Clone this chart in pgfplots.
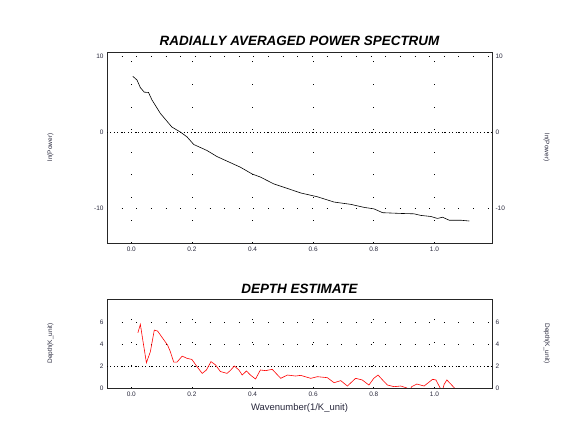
\documentclass[border=0pt]{standalone}
\usepackage{fontspec}
\setmainfont{Liberation Sans}
\usepackage{pgfplots}
\pgfplotsset{compat=1.18}

\definecolor{lab}{RGB}{40,40,60}

\pgfplotsset{
  base/.style={
    scale only axis, width=385bp, anchor=south west,
    xmin=-0.08, xmax=1.19,
    xtick={0,0.2,...,1.0},
    major tick length=0pt,
    axis line style={line width=0.8pt, black!85},
    tick label style={font=\fontsize{6.5}{7}\selectfont, text=lab},
    label style={font=\fontsize{6.5}{7}\selectfont, text=lab},
    /pgf/number format/assume math mode=true,
    xticklabel style={/pgf/number format/.cd, fixed, fixed zerofill, precision=1},
    grid=major,
    x grid style={black, line width=0.7pt, dash pattern=on 0.7pt off 22pt},
    y grid style={black, line width=0.7pt, dash pattern=on 0.7pt off 14pt},
    title style={font=\fontsize{13.5}{15}\selectfont\bfseries\itshape, yshift=-3pt},
    clip=true,
  },
  rightcopy/.style={
    scale only axis, width=385bp, anchor=south west,
    xmin=-0.08, xmax=1.19,
    axis x line=none, axis y line*=right,
    yticklabel pos=right,
    major tick length=0pt,
    axis line style={line width=0.8pt, black!85},
    tick label style={font=\fontsize{6.5}{7}\selectfont, text=lab},
    label style={font=\fontsize{6.5}{7}\selectfont, text=lab},
    /pgf/number format/assume math mode=true,
    ylabel style={at={(axis description cs:1.125,0.5)}, rotate=180},
  },
}

\begin{document}
\begin{tikzpicture}
\useasboundingbox (0bp,0bp) rectangle (574bp,429bp);

% ---- top: power spectrum ----
\begin{axis}[base, at={(107bp,186bp)}, height=191bp,
  ymin=-14.6, ymax=10.6, ytick={-10,0,10},
  title={RADIALLY AVERAGED POWER SPECTRUM},
  ylabel={ln(Power)},
  ylabel style={at={(axis description cs:-0.13,0.5)}},
]
\addplot[black, line width=0.5pt, dash pattern=on 1pt off 2.5pt, forget plot] coordinates {(-0.08,0) (1.19,0)};
\addplot[black, line width=0.6pt] coordinates {
(0.005,7.4) (0.019,6.9) (0.03,5.9) (0.043,5.3) (0.057,5.26) (0.068,4.3)
(0.082,3.4) (0.096,2.5) (0.115,1.6) (0.134,0.7) (0.162,0.04) (0.184,-0.6)
(0.206,-1.6) (0.228,-2.0) (0.25,-2.4) (0.283,-3.2) (0.327,-4.0) (0.36,-4.6)
(0.399,-5.5) (0.426,-5.9) (0.47,-6.8) (0.515,-7.4) (0.559,-8.0) (0.614,-8.5)
(0.669,-9.2) (0.724,-9.5) (0.768,-9.9) (0.801,-10.1) (0.829,-10.6) (0.889,-10.7)
(0.933,-10.75) (0.955,-10.96) (0.988,-11.1) (1.01,-11.36) (1.027,-11.2)
(1.049,-11.6) (1.088,-11.6) (1.115,-11.7)
};
\end{axis}
\begin{axis}[rightcopy, at={(107bp,186bp)}, height=191bp,
  ymin=-14.6, ymax=10.6, ytick={-10,0,10},
  ylabel={ln(Power)},
]
\end{axis}

% ---- bottom: depth estimate ----
\begin{axis}[base, at={(107bp,41bp)}, height=89bp,
  ymin=0, ymax=8.1, ytick={0,2,4,6},
  title={DEPTH ESTIMATE},
  title style={yshift=-1pt},
  ylabel={Depth(K\_unit)},
  ylabel style={at={(axis description cs:-0.13,0.5)}},
  xlabel={Wavenumber(1/K\_unit)},
  xlabel style={font=\fontsize{9.5}{11}\selectfont, text=lab, yshift=-1pt},
]
\addplot[black, line width=0.5pt, dash pattern=on 1pt off 2.5pt, forget plot] coordinates {(-0.08,2) (1.19,2)};
\addplot[red, line width=0.6pt] coordinates {
(0.022,5.03) (0.03,5.8) (0.039,4.2) (0.05,2.3) (0.063,3.3) (0.076,5.27)
(0.087,5.18) (0.107,4.4) (0.12,3.9) (0.129,3.3) (0.14,2.36) (0.151,2.36)
(0.168,2.9) (0.184,2.7) (0.2,2.6) (0.217,1.94) (0.234,1.33) (0.248,1.64)
(0.263,2.4) (0.278,2.1) (0.294,1.5) (0.316,1.33) (0.327,1.6) (0.34,2.0)
(0.355,1.64) (0.366,1.18) (0.38,1.55) (0.393,1.18) (0.41,0.82) (0.426,1.64)
(0.443,1.58) (0.465,1.7) (0.493,0.88) (0.515,1.18) (0.542,1.09) (0.559,1.15)
(0.592,0.88) (0.614,1.03) (0.647,0.94) (0.669,0.48) (0.691,0.67) (0.713,0.18)
(0.74,0.88) (0.762,0.73) (0.784,0.27) (0.8,0.88) (0.814,1.18) (0.829,0.73)
(0.845,0.27) (0.867,0.12) (0.889,0.18) (0.909,0.0) (0.917,-0.3) (0.925,0.12)
(0.942,0.36) (0.966,0.18) (0.994,0.79) (1.005,0.73) (1.019,0.0) (1.026,-0.3)
(1.032,0.33) (1.041,0.73) (1.052,0.42) (1.066,0.0) (1.075,-0.3)
};
\end{axis}
\begin{axis}[rightcopy, at={(107bp,41bp)}, height=89bp,
  ymin=0, ymax=8.1, ytick={0,2,4,6},
  ylabel={Depth(K\_unit)},
]
\end{axis}
\end{tikzpicture}
\end{document}
